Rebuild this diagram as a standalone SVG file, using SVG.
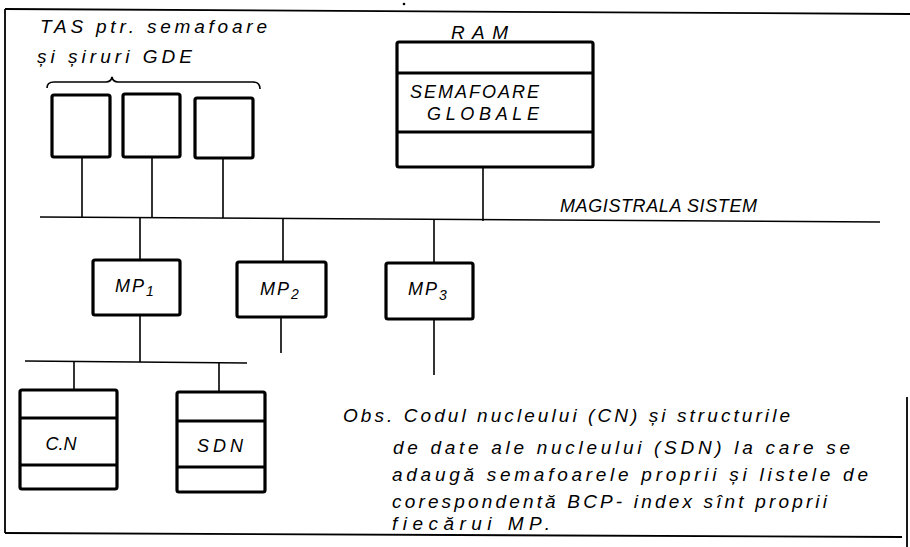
<svg xmlns="http://www.w3.org/2000/svg" width="910" height="547" viewBox="0 0 910 547">
<defs>
<style>
.box{fill:none;stroke:#000;stroke-width:3.2;stroke-linejoin:round}
.div{stroke:#000;stroke-width:3}
.ln{stroke:#000;stroke-width:1.6;fill:none}
.fr{stroke:#000;stroke-width:1.8;fill:none}
text{font-family:"Liberation Sans","DejaVu Sans",sans-serif;font-style:italic;fill:#000}
.t{font-size:19px}
.s{font-size:18px}
.sub{font-size:14px}
</style>
</defs>
<rect width="910" height="547" fill="#fff"/>
<g id="frame">
<path class="fr" d="M5,9 L910,14"/>
<path class="fr" d="M5,9 L5,533"/>
<path class="fr" d="M5,533 L902,537"/>
<path class="fr" d="M907,397 L907,547"/>
<circle cx="404" cy="4" r="1.3" fill="#000"/>
</g>
<g id="connectors">
<path class="ln" d="M40,217 L880,222"/>
<path class="ln" d="M82,157 V217 M152,157 V218 M223,158 V218"/>
<path class="ln" d="M483,167 V221"/>
<path class="ln" d="M140,218 V260 M283,219 V262 M434,220 V263"/>
<path class="ln" d="M140,315 V362 M281,317 V353 M434,319 V375"/>
<path class="ln" d="M25,361 L247,363"/>
<path class="ln" d="M74,361 V390 M219,362 V392"/>
<path class="ln" d="M47,88 Q47,82 54,82 L106,82 Q111,82 112,77 Q113,82 118,82 L253,82 Q260,82 260,89"/>
</g>
<g id="tas-label">
<text class="t" x="40" y="33" textLength="227" lengthAdjust="spacing">TAS ptr. semafoare</text>
<text class="t" x="37" y="63" textLength="155" lengthAdjust="spacing">și șiruri GDE</text>
</g>
<g id="tas1"><rect class="box" x="52" y="95" width="58" height="62" rx="2"/></g>
<g id="tas2"><rect class="box" x="123" y="94" width="57" height="63" rx="2"/></g>
<g id="tas3"><rect class="box" x="195" y="98" width="58" height="60" rx="2"/></g>
<g id="ram">
<text class="t" x="451" y="39" textLength="57" lengthAdjust="spacing">RAM</text>
<rect class="box" x="397" y="42" width="196" height="125" rx="2"/>
<line class="div" x1="397" y1="73" x2="593" y2="73"/>
<line class="div" x1="397" y1="132" x2="593" y2="132"/>
<text class="s" x="410" y="98" textLength="129" lengthAdjust="spacing">SEMAFOARE</text>
<text class="s" x="427" y="120" textLength="112" lengthAdjust="spacing">GLOBALE</text>
</g>
<g id="bus-label">
<text class="s" x="560" y="212" textLength="197" lengthAdjust="spacing">MAGISTRALA SISTEM</text>
</g>
<g id="mp1">
<rect class="box" x="93" y="260" width="87" height="55" rx="2"/>
<text class="s" x="115" y="292" letter-spacing="2">MP<tspan class="sub" dy="4">1</tspan></text>
</g>
<g id="mp2">
<rect class="box" x="237" y="262" width="89" height="55" rx="2"/>
<text class="s" x="260" y="295" letter-spacing="2">MP<tspan class="sub" dy="4">2</tspan></text>
</g>
<g id="mp3">
<rect class="box" x="386" y="263" width="87" height="56" rx="2"/>
<text class="s" x="408" y="295" letter-spacing="2">MP<tspan class="sub" dy="5">3</tspan></text>
</g>
<g id="cn">
<rect class="box" x="20" y="390" width="97" height="99" rx="2"/>
<line class="div" x1="20" y1="418" x2="117" y2="418"/>
<line class="div" x1="20" y1="465" x2="117" y2="465"/>
<text class="s" x="61" y="450" text-anchor="middle">C.N</text>
</g>
<g id="sdn">
<rect class="box" x="177" y="392" width="88" height="100" rx="2"/>
<line class="div" x1="177" y1="421" x2="265" y2="421"/>
<line class="div" x1="177" y1="467" x2="265" y2="467"/>
<text class="s" x="220" y="452" text-anchor="middle" textLength="46" lengthAdjust="spacing">SDN</text>
</g>
<g id="obs">
<text class="t" x="343" y="422" textLength="447" lengthAdjust="spacing">Obs. Codul nucleului (CN) și structurile</text>
<text class="t" x="393" y="454" textLength="457" lengthAdjust="spacing">de date ale nucleului (SDN) la care se</text>
<text class="t" x="392" y="481" textLength="476" lengthAdjust="spacing">adaugă semafoarele proprii  și listele de</text>
<text class="t" x="392" y="508" textLength="435" lengthAdjust="spacing">corespondentă BCP- index sînt proprii</text>
<text class="t" x="392" y="530" textLength="158" lengthAdjust="spacing">fiecărui MP.</text>
</g>
</svg>
